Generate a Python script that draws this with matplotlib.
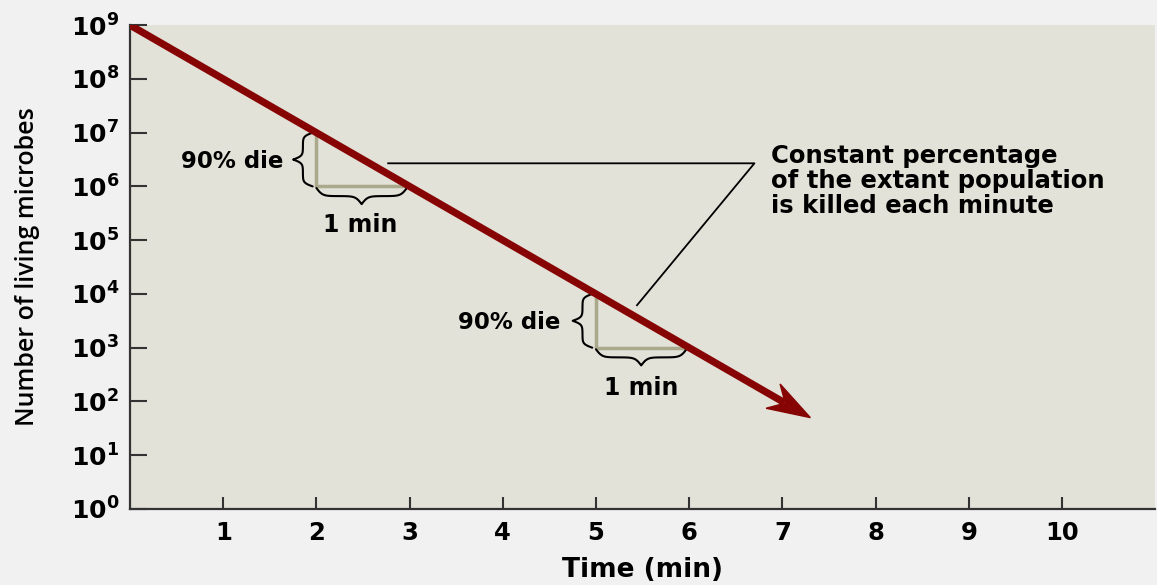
import numpy as np
import matplotlib
matplotlib.use("Agg")
import matplotlib.pyplot as plt
from matplotlib.patches import Polygon
from matplotlib.lines import Line2D
from matplotlib.transforms import IdentityTransform

# data
time_min = [0, 7.3]
living = [1e9, 50]

step1_x = [2, 2, 3]
step1_y = [1e7, 1e6, 1e6]
step2_x = [5, 5, 6]
step2_y = [1e4, 1e3, 1e3]

xticks = [1, 2, 3, 4, 5, 6, 7, 8, 9, 10]
yticks = [1e0, 1e1, 1e2, 1e3, 1e4, 1e5, 1e6, 1e7, 1e8, 1e9]
ytick_labels = [r"$\mathbf{10^{%d}}$" % i for i in range(10)]

note = "Constant percentage\nof the extant population\nis killed each minute"

plt.rcParams['font.family'] = ['DejaVu Sans']
plt.rcParams['mathtext.fontset'] = 'dejavusans'

red = '#860404'
olive = '#aaa98b'
bg = '#e2e2d9'


def brace(ax, x0, x1, y0, y1, width, vertical):
    # curly brace; vertical: span in log decades y0..y1 at x0, tip goes to x0 - width
    n = 60
    h = np.linspace(0, 0.5, n)
    beta = 30.0
    s = 1 / (1 + np.exp(-beta * (h - h[0]))) + 1 / (1 + np.exp(-beta * (h - h[-1])))
    s = np.concatenate([s, s[-2::-1]])
    s = (s - s.min()) / (s.max() - s.min())
    t = np.linspace(0, 1, len(s))
    if vertical:
        xs = x0 - width * s
        ys = 10 ** (y0 + (y1 - y0) * t)
    else:
        xs = x0 + (x1 - x0) * t
        ys = 10 ** (y0 - width * s)
    ax.plot(xs, ys, color='black', lw=1.5, solid_capstyle='round', zorder=4)


fig = plt.figure(figsize=(11.57, 5.85), dpi=100, facecolor='#f1f1f1')
ax = fig.add_axes([0.1124, 0.130, 0.886, 0.827])
ax.set_facecolor(bg)
ax.set_yscale('log')
ax.set_xlim(0, 11)
ax.set_ylim(1, 1e9)

for side in ['top', 'right']:
    ax.spines[side].set_visible(False)
for side in ['left', 'bottom']:
    ax.spines[side].set_linewidth(1.6)
    ax.spines[side].set_color('#333333')

ax.set_xticks(xticks)
ax.set_xticklabels([str(v) for v in xticks], fontweight='bold', fontsize=17.5)
ax.set_yticks(yticks)
ax.set_yticklabels(ytick_labels, fontsize=18)
ax.yaxis.set_minor_locator(matplotlib.ticker.NullLocator())
ax.tick_params(axis='x', direction='in', length=9, width=1.5, pad=9, color='#333333')
ax.tick_params(axis='y', direction='in', length=12, width=1.5, pad=8, color='#333333')

ax.set_xlabel('Time (min)', fontsize=19, fontweight='bold', labelpad=8)
ax.set_ylabel('Number of living microbes', fontsize=18, fontweight='semibold',
              family=['Open Sans', 'DejaVu Sans'])
ax.yaxis.set_label_coords(-0.088, 0.5)

# steps showing 90% die in 1 min
ax.plot(step1_x, step1_y, color=olive, lw=2.5, zorder=3)
ax.plot(step2_x, step2_y, color=olive, lw=2.5, zorder=3)

# main line + barbed arrow head (line stops inside the head)
p0 = ax.transData.transform((time_min[0], living[0]))
p1 = ax.transData.transform((time_min[1], living[1]))
d = (p1 - p0) / np.hypot(*(p1 - p0))
nrm = np.array([-d[1], d[0]])
stop = p1 - 30 * d
ax.add_line(Line2D([p0[0], stop[0]], [p0[1], stop[1]], color=red, lw=5.2,
                   solid_capstyle='butt', transform=IdentityTransform(), zorder=5))
head = [p1, p1 - 43 * d + 14 * nrm, p1 - 29 * d, p1 - 43 * d - 14 * nrm]
ax.add_patch(Polygon(head, closed=True, color=red, transform=IdentityTransform(), zorder=6))

# braces and labels
brace(ax, 1.96, None, 6.0, 7.0, 0.21, True)
brace(ax, 2.0, 2.97, 5.97, None, 0.3, False)
brace(ax, 4.96, None, 3.0, 4.0, 0.21, True)
brace(ax, 5.0, 5.97, 2.97, None, 0.3, False)

ax.text(1.65, 10 ** 6.47, '90% die', ha='right', va='center', fontsize=16.5, fontweight='bold')
ax.text(2.47, 10 ** 5.28, '1 min', ha='center', va='center', fontsize=17, fontweight='bold')
ax.text(4.62, 10 ** 3.46, '90% die', ha='right', va='center', fontsize=16.5, fontweight='bold')
ax.text(5.48, 10 ** 2.25, '1 min', ha='center', va='center', fontsize=17, fontweight='bold')

# pointer lines to note
ax.plot([2.77, 6.70, 5.44], [10 ** 6.43, 10 ** 6.43, 10 ** 3.79], color='black', lw=1.3, zorder=4)
ax.text(6.88, 10 ** 6.78, note, ha='left', va='top', fontsize=17.5, fontweight='bold',
        linespacing=1.05)

fig.savefig('out.png', dpi=100, facecolor=fig.get_facecolor())
